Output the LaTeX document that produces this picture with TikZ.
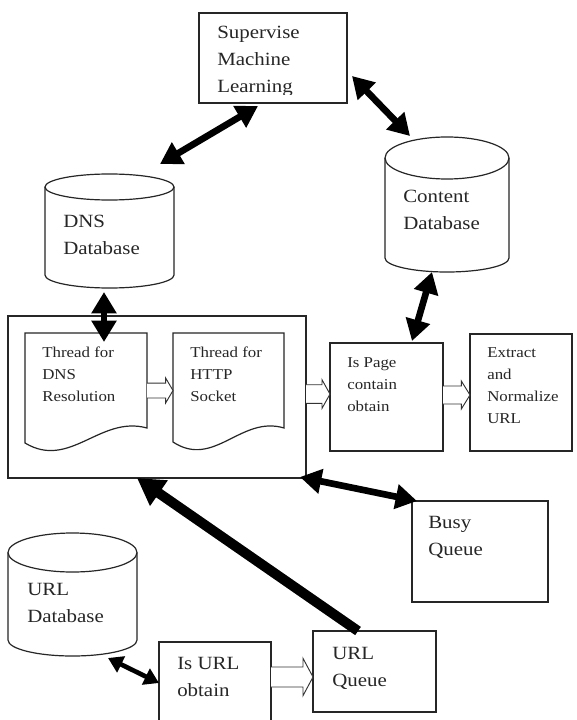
\documentclass[tikz,border=0pt]{standalone}
\usepackage{fontspec}
\setmainfont{Liberation Serif}[FakeStretch=1.12]
\usetikzlibrary{arrows.meta,fit,calc}

% open block arrow: from, to, half shaft width, head length, head flare
\newcommand\openarrow[5]{%
  \draw[hollow] let \p1=#1, \p2=#2 in
    (\x1,\y1+#3) -- (\x2-#4,\y1+#3) -- (\x2-#4,\y1+#3+#5) -- (\x2,\y1)
    -- (\x2-#4,\y1-#3-#5) -- (\x2-#4,\y1-#3) -- (\x1,\y1-#3);}

\begin{document}
\begin{tikzpicture}[x=0.75pt,y=-0.75pt,
  outline/.style={draw=black!85, line width=0.9pt},
  hollow/.style={draw=black!80, line width=0.7pt, fill=white},
  region/.style={inner sep=0pt, outer sep=0pt},
  % text nodes are placed by the baseline of their last line
  bigtxt/.style={font=\fontsize{14}{20.25}\selectfont, align=left,
    inner sep=0pt, anchor=base west, text=black!85},
  smalltxt/.style={font=\fontsize{11.3}{16.5}\selectfont, align=left,
    inner sep=0pt, anchor=base west, text=black!85},
  dbl/.style={line width=5pt, {Triangle[length=16pt,width=18pt]}-{Triangle[length=16pt,width=18pt]}},
  dblsmall/.style={line width=3.5pt, {Triangle[length=11pt,width=13pt]}-{Triangle[length=11pt,width=13pt]}},
  push/.style={line width=7.5pt, -{Triangle[length=20pt,width=22pt]}}]

\useasboundingbox (0,0) rectangle (576,720);
\fill[white] (0,0) rectangle (576,720);

% ---- rectangular boxes
\draw[outline] (199,13) rectangle (347,103);
\node[region, fit={(199,13) (347,103)}] (sml) {};
\begin{scope}
  \clip (199,13) rectangle (347,95);
  \node[bigtxt] (smlT) at (217,93) {Supervise\\Machine\\Learning};
\end{scope}

\draw[outline] (8,316) rectangle (306,478);
\node[region, fit={(8,316) (306,478)}] (big) {};

\draw[outline] (330,343) rectangle (443,451);
\node[region, fit={(330,343) (443,451)}] (page) {};
\node[smalltxt] (pageT) at (347,411) {Is Page\\contain\\obtain};

\draw[outline] (470,334) rectangle (572,451);
\node[region, fit={(470,334) (572,451)}] (extr) {};
\node[smalltxt] (extrT) at (487,423) {Extract\\and\\Normalize\\URL};

\draw[outline] (412,501) rectangle (548,602);
\node[region, fit={(412,501) (548,602)}] (busy) {};
\node[bigtxt] (busyT) at (428,555) {Busy\\Queue};

\draw[outline] (159,726) -- (159,642) -- (271,642) -- (271,726);
\node[region, fit={(159,642) (271,724)}] (isurl) {};
\node[bigtxt] (isurlT) at (177,696) {Is URL\\obtain};

\draw[outline] (313,631) rectangle (436,712);
\node[region, fit={(313,631) (436,712)}] (uq) {};
\node[bigtxt] (uqT) at (332,686) {URL\\Queue};

% ---- document shapes inside the thread container
\draw[outline, fill=white] (25,333) -- (147,333) -- (147,428)
  .. controls (100,415) and (70,470) .. (25,443) -- cycle;
\node[region, fit={(25,333) (147,452)}] (thr1) {};
\node[smalltxt] (thr1T) at (42,401) {Thread for\\DNS\\Resolution};

\draw[outline, fill=white] (173,333) -- (284,333) -- (284,428)
  .. controls (241,415) and (214,469) .. (173,442) -- cycle;
\node[region, fit={(173,333) (284,452)}] (thr2) {};
\node[smalltxt] (thr2T) at (190,401) {Thread for\\HTTP\\Socket};

% ---- database cylinders
\draw[outline] (45,187) -- (45,275) arc[start angle=180, end angle=0, x radius=64.5, y radius=13] -- (174,187);
\draw[outline] (109.5,187) ellipse [x radius=64.5, y radius=13];
\node[region, fit={(45,174) (174,288)}] (dns) {};
\node[bigtxt] (dnsT) at (63,254) {DNS\\Database};

\draw[outline] (385,158) -- (385,258) arc[start angle=180, end angle=0, x radius=62, y radius=14] -- (509,158);
\draw[outline] (447,158) ellipse [x radius=62, y radius=21];
\node[region, fit={(385,137) (509,272)}] (cdb) {};
\node[bigtxt] (cdbT) at (403,229) {Content\\Database};

\draw[outline] (8,552.5) -- (8,640) arc[start angle=180, end angle=0, x radius=64.5, y radius=16] -- (137,552.5);
\draw[outline] (72.5,552.5) ellipse [x radius=64.5, y radius=19.5];
\node[region, fit={(8,533) (137,656)}] (udb) {};
\node[bigtxt] (udbT) at (27,622) {URL\\Database};

% ---- open block arrows
\openarrow{([yshift=1.5pt]thr1.east)}{(thr2.west)}{5.6pt}{5.5pt}{3.75pt}
\openarrow{([yshift=2.2pt]big.east)}{(page.west)}{7pt}{6pt}{3.75pt}
\openarrow{([yshift=1.5pt]page.east)}{(extr.west)}{6.75pt}{6.5pt}{3.75pt}
\openarrow{([yshift=4.5pt]isurl.east)}{(uq.west)}{7.5pt}{7.5pt}{6.5pt}

% ---- heavy connectors
\draw[dbl] ($(sml.south west)+(59,3)$) -- ($(dns.north west)+(115,-10)$);
\draw[dbl] ($(sml.north east)+(5,63)$) -- ($(cdb.north west)+(25,-1)$);
\draw[dbl] ($(cdb.south west)+(47,0)$) -- ($(page.north west)+(82,-2)$);
\draw[dbl] ($(dns.south west)+(59,4)$) -- ($(thr1.north west)+(79,9)$);
\draw[dbl] ($(big.south east)+(-6,-1)$) -- ($(busy.north west)+(5,0)$);
\draw[dblsmall] ($(udb.south west)+(100,2)$) -- ($(isurl.north west)+(0,41)$);
\draw[push] ($(uq.north west)+(45,0)$) -- ($(big.south west)+(129,0)$);

\end{tikzpicture}
\end{document}
